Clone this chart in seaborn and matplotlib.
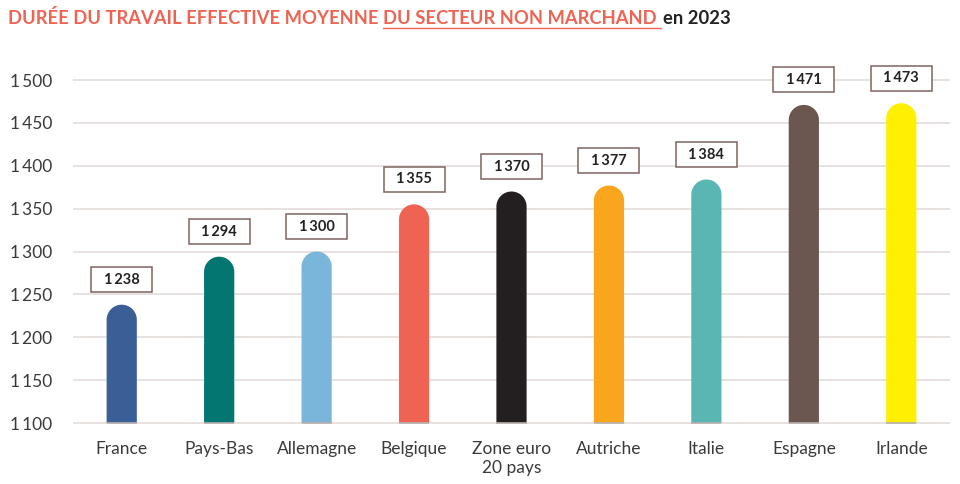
import matplotlib
matplotlib.use("Agg")
import matplotlib.pyplot as plt
import seaborn as sns
import pandas as pd
import numpy as np
from matplotlib.patches import Rectangle, PathPatch
from matplotlib.path import Path
from matplotlib.transforms import Affine2D, ScaledTranslation

categories = ["France", "Pays-Bas", "Allemagne", "Belgique", "Zone euro\n20 pays",
              "Autriche", "Italie", "Espagne", "Irlande"]
values = [1238, 1294, 1300, 1355, 1370, 1377, 1384, 1471, 1473]
colors = ["#3A5E96", "#047672", "#7AB6D9", "#EE6352", "#231F20",
          "#F9A51E", "#59B6B3", "#6B5650", "#FFEF00"]
yticks = [1100, 1150, 1200, 1250, 1300, 1350, 1400, 1450, 1500]

sns.set_theme(style="white")
plt.rcParams['font.family'] = ['Lato', 'DejaVu Sans']

def fmt(v):
    s = f"{v:,}"
    return s.replace(",", "\u2009")

df = pd.DataFrame({"pays": categories, "heures": values})

fig = plt.figure(figsize=(9.6, 4.84), dpi=100)
ax = fig.add_axes([73/960, (484-427.3)/484, 877/960, 364.4/484])

sns.barplot(data=df, x="pays", y="heures", hue="pays", palette=colors,
            legend=False, width=0.31, ax=ax, saturation=1, zorder=3)

ymin, ymax = 1095, 1520
ax.set_ylim(ymin, ymax)
ax.set_xlim(-0.5, 8.5)

px_per_unit = 364.4 / (ymax - ymin)
theta = np.linspace(0, np.pi, 60)
for p, v, c in zip(list(ax.patches[:len(values)]), values, colors):
    x0 = p.get_x(); w = p.get_width(); base = 1100
    ry = (w * 97.4 / 2) / px_per_unit
    cx = x0 + w / 2
    p.set_visible(False)
    arc = np.column_stack([cx + (w / 2) * np.cos(theta), (v - ry) + ry * np.sin(theta)])
    verts = np.vstack([[[x0, base], [x0 + w, base]], arc, [[x0, base]]])
    codes = [Path.MOVETO] + [Path.LINETO] * (len(verts) - 2) + [Path.CLOSEPOLY]
    ax.add_patch(PathPatch(Path(verts, codes), facecolor=c, edgecolor="none",
                           linewidth=0, zorder=3))
    ax.plot([x0, x0 + w], [1100.5, 1100.5], color="#b8b0ad", lw=1.2, zorder=4,
            solid_capstyle="butt")
    tr = Affine2D() + ScaledTranslation(cx, v, ax.transData)
    ax.add_patch(Rectangle((-30.5, 25 - 12.5), 61, 25, transform=tr, facecolor="white",
                           edgecolor="#7d6460", lw=1.1, zorder=5, clip_on=False))
    ax.text(0, 25, fmt(v), transform=tr, ha="center", va="center", fontsize=10.5,
            fontweight="bold", color="#222222", zorder=6)

ax.set_yticks(yticks)
ax.set_yticklabels([fmt(t) for t in yticks])
for y in yticks:
    ax.axhline(y, color="#e3dcd9", lw=1.2, zorder=1)
ax.grid(False)
for s in ax.spines.values():
    s.set_visible(False)
ax.set_xlabel("")
ax.set_ylabel("")
ax.tick_params(axis="y", length=0, pad=15, labelsize=12.5, labelcolor="#3a3a3a")
ax.tick_params(axis="x", length=0, pad=10, labelsize=12.5, labelcolor="#3a3a3a")

ty = 1 - 18/484
t1 = fig.text(8/960, ty, "DURÉE DU TRAVAIL EFFECTIVE MOYENNE ", fontsize=13.2,
              fontweight="bold", color="#EE6352", va="center", ha="left")
fig.canvas.draw()
r = fig.canvas.get_renderer()
bb = t1.get_window_extent(r)
t2 = fig.text(bb.x1 / 960, ty, "DU SECTEUR NON MARCHAND ", fontsize=13.2,
              fontweight="bold", color="#EE6352", va="center", ha="left")
bb2 = t2.get_window_extent(r)
fig.add_artist(plt.Line2D([bb2.x0 / 960, bb2.x1 / 960], [1 - 28/484, 1 - 28/484],
                          color="#EE6352", lw=1.0, transform=fig.transFigure))
fig.text(bb2.x1 / 960 + 2/960, ty, "en 2023", fontsize=13.2,
         fontweight="bold", color="#222222", va="center", ha="left")

fig.savefig("out.png", dpi=100)
